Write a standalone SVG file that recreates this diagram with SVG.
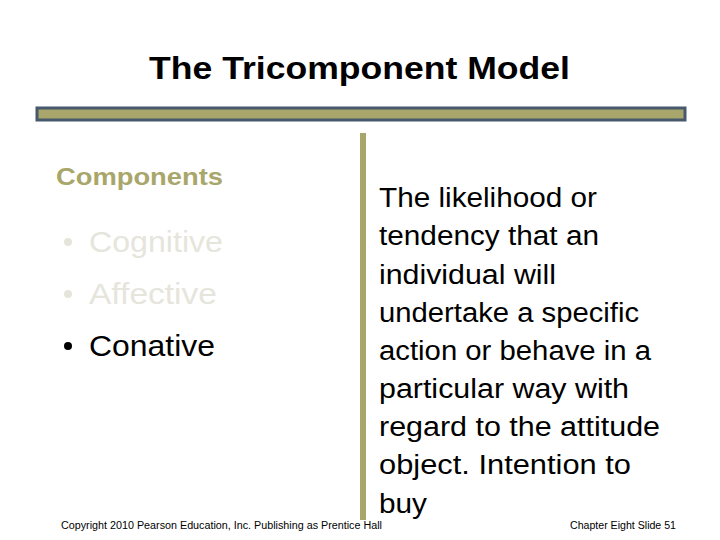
<svg xmlns="http://www.w3.org/2000/svg" width="720" height="540" viewBox="0 0 720 540">
<style>
text{font-family:"Liberation Sans",Arial,sans-serif}
.b{font-size:29px;fill:#E6E5DC}
.r{font-size:27px;fill:#000}
.f{font-size:10px;fill:#000}
</style>
<rect width="720" height="540" fill="#fff"/>
<text x="149" y="79" font-size="32" font-weight="bold" fill="#000" textLength="421" lengthAdjust="spacingAndGlyphs">The Tricomponent Model</text>
<rect x="37" y="108" width="648" height="12" fill="#A9A66B" stroke="#46596D" stroke-width="3"/>
<rect x="360" y="133" width="6" height="387" fill="#A9A66B"/>
<text x="56" y="185" font-size="24" font-weight="bold" fill="#A9A66B" textLength="167" lengthAdjust="spacingAndGlyphs">Components</text>
<g class="b">
<circle cx="68" cy="242" r="4"/>
<circle cx="68" cy="294" r="4"/>
<text x="89" y="252" textLength="134" lengthAdjust="spacingAndGlyphs">Cognitive</text>
<text x="89" y="304" textLength="128" lengthAdjust="spacingAndGlyphs">Affective</text>
</g>
<circle cx="68" cy="346" r="4" fill="#000"/>
<text x="89" y="356" class="b" style="fill:#000" textLength="126" lengthAdjust="spacingAndGlyphs">Conative</text>
<g class="r" lengthAdjust="spacingAndGlyphs">
<text x="379" y="207" textLength="218" lengthAdjust="spacingAndGlyphs">The likelihood or</text>
<text x="379" y="245" textLength="220" lengthAdjust="spacingAndGlyphs">tendency that an</text>
<text x="379" y="284" textLength="177" lengthAdjust="spacingAndGlyphs">individual will</text>
<text x="379" y="322" textLength="260" lengthAdjust="spacingAndGlyphs">undertake a specific</text>
<text x="379" y="360" textLength="272" lengthAdjust="spacingAndGlyphs">action or behave in a</text>
<text x="379" y="398" textLength="250" lengthAdjust="spacingAndGlyphs">particular way with</text>
<text x="379" y="436" textLength="281" lengthAdjust="spacingAndGlyphs">regard to the attitude</text>
<text x="379" y="474" textLength="252" lengthAdjust="spacingAndGlyphs">object. Intention to</text>
<text x="379" y="513" textLength="48" lengthAdjust="spacingAndGlyphs">buy</text>
</g>
<text x="61" y="529" class="f" textLength="321" lengthAdjust="spacingAndGlyphs">Copyright 2010 Pearson Education, Inc. Publishing as Prentice Hall</text>
<text x="570" y="529" class="f" textLength="106" lengthAdjust="spacingAndGlyphs">Chapter Eight Slide 51</text>
</svg>
